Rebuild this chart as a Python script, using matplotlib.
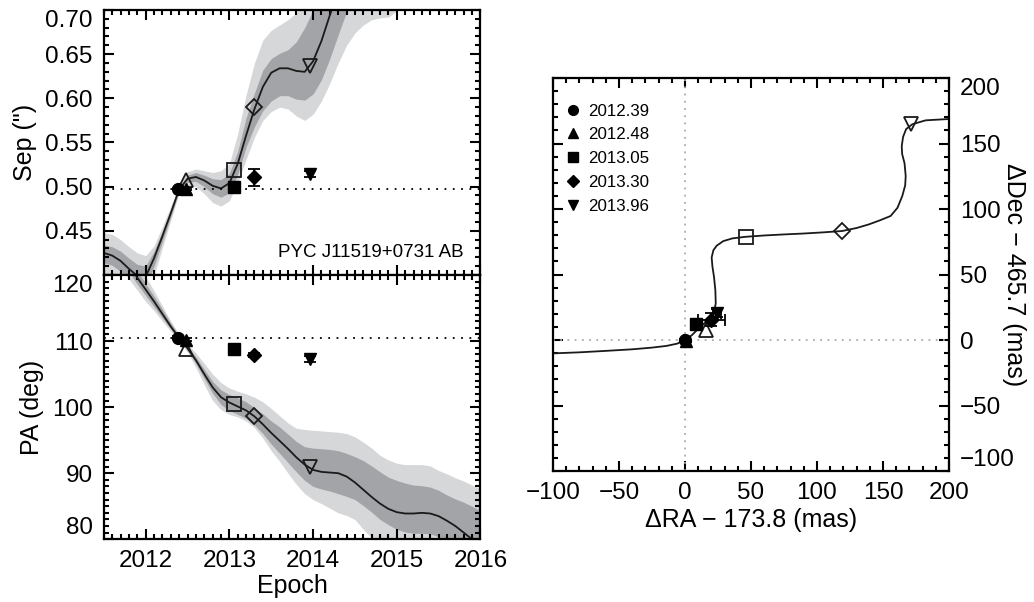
import numpy as np
import matplotlib.pyplot as plt
from matplotlib.ticker import MultipleLocator, FormatStrFormatter
from matplotlib.lines import Line2D

plt.rcParams['font.family'] = ['Liberation Sans', 'DejaVu Sans']
plt.rcParams['axes.linewidth'] = 1.6

# ---- orbit-fit predictions, sampled every 0.1 yr ----
epoch = [2011.5, 2011.6, 2011.7, 2011.8, 2011.9, 2012.0, 2012.1, 2012.2, 2012.3, 2012.4,
         2012.5, 2012.6, 2012.7, 2012.8, 2012.9, 2013.0, 2013.1, 2013.2, 2013.3, 2013.4,
         2013.5, 2013.6, 2013.7, 2013.8, 2013.9, 2014.0, 2014.1, 2014.2, 2014.3, 2014.4,
         2014.5, 2014.6, 2014.7, 2014.8, 2014.9, 2015.0, 2015.1, 2015.2, 2015.3, 2015.4,
         2015.5, 2015.6, 2015.7, 2015.8, 2015.9, 2016.0]

sep_fit = [0.425, 0.422, 0.416, 0.407, 0.399, 0.398, 0.419, 0.444, 0.470, 0.497,
           0.509, 0.511, 0.507, 0.501, 0.498, 0.504, 0.526, 0.558, 0.588, 0.613,
           0.629, 0.634, 0.634, 0.631, 0.630, 0.642, 0.665, 0.694, 0.722, 0.745,
           0.762, 0.772, 0.778, 0.781, 0.783, 0.787, 0.796, 0.810, 0.826, 0.840,
           0.850, 0.856, 0.859, 0.861, 0.864, 0.870]
sep_1s_lo = [0.414, 0.411, 0.404, 0.394, 0.386, 0.387, 0.410, 0.438, 0.466, 0.495,
             0.505, 0.506, 0.500, 0.492, 0.488, 0.493, 0.514, 0.545, 0.568, 0.586,
             0.597, 0.603, 0.603, 0.599, 0.598, 0.605, 0.621, 0.645, 0.672, 0.698,
             0.716, 0.728, 0.735, 0.738, 0.740, 0.743, 0.750, 0.762, 0.776, 0.790,
             0.800, 0.805, 0.808, 0.810, 0.812, 0.816]
sep_1s_hi = [0.434, 0.432, 0.427, 0.419, 0.412, 0.410, 0.427, 0.450, 0.474, 0.499,
             0.513, 0.516, 0.513, 0.509, 0.508, 0.515, 0.540, 0.578, 0.606, 0.632,
             0.645, 0.651, 0.655, 0.664, 0.680, 0.700, 0.720, 0.745, 0.770, 0.790,
             0.805, 0.815, 0.822, 0.826, 0.829, 0.834, 0.844, 0.860, 0.878, 0.892,
             0.902, 0.908, 0.912, 0.915, 0.918, 0.925]
sep_2s_lo = [0.400, 0.396, 0.389, 0.379, 0.371, 0.373, 0.399, 0.431, 0.462, 0.493,
             0.501, 0.500, 0.492, 0.482, 0.478, 0.484, 0.505, 0.531, 0.556, 0.575,
             0.585, 0.590, 0.588, 0.580, 0.575, 0.582, 0.597, 0.617, 0.640, 0.660,
             0.674, 0.683, 0.689, 0.691, 0.692, 0.699, 0.708, 0.720, 0.732, 0.742,
             0.750, 0.754, 0.756, 0.757, 0.759, 0.763]
sep_2s_hi = [0.448, 0.446, 0.440, 0.432, 0.425, 0.422, 0.433, 0.455, 0.478, 0.502,
             0.517, 0.520, 0.518, 0.516, 0.518, 0.526, 0.560, 0.604, 0.640, 0.666,
             0.677, 0.683, 0.689, 0.697, 0.712, 0.730, 0.750, 0.775, 0.800, 0.820,
             0.835, 0.845, 0.853, 0.858, 0.862, 0.868, 0.878, 0.895, 0.915, 0.930,
             0.940, 0.946, 0.950, 0.953, 0.956, 0.962]

pa_fit = [127.0, 125.3, 123.5, 121.6, 119.6, 117.8, 116.0, 114.1, 112.2, 110.5,
          108.9, 107.1, 105.0, 103.0, 101.5, 100.7, 100.1, 99.5, 98.6, 97.4,
          96.1, 94.9, 93.7, 92.4, 91.3, 90.5, 90.2, 90.1, 90.0, 89.5,
          88.6, 87.5, 86.4, 85.4, 84.6, 84.1, 83.9, 83.9, 84.0, 83.9,
          83.5, 82.8, 82.0, 81.0, 80.0, 79.0]
pa_1s_lo = [125.5, 124.0, 122.3, 120.5, 118.6, 116.9, 115.2, 113.5, 111.8, 110.2,
            108.6, 106.6, 104.3, 102.1, 100.4, 99.5, 98.9, 98.3, 97.3, 96.0,
            94.4, 93.0, 91.6, 90.2, 88.9, 88.0, 87.6, 87.3, 86.9, 86.5,
            86.0, 85.1, 84.1, 83.0, 82.2, 81.5, 81.1, 80.9, 80.9, 80.8,
            80.4, 79.7, 78.9, 78.0, 77.0, 76.0]
pa_1s_hi = [128.5, 126.7, 124.8, 122.7, 120.6, 118.7, 116.8, 114.8, 112.7, 110.8,
            109.2, 107.6, 105.7, 103.9, 102.6, 101.9, 101.4, 100.8, 99.9, 99.0,
            97.9, 97.0, 95.9, 94.8, 94.0, 93.8, 93.7, 93.6, 93.4, 93.0,
            92.5, 91.9, 91.1, 90.2, 89.4, 88.9, 88.5, 88.2, 88.1, 87.9,
            87.4, 86.7, 86.1, 85.6, 85.0, 84.3]
pa_2s_lo = [124.0, 122.5, 121.0, 119.4, 117.7, 116.0, 114.6, 113.0, 111.5, 110.0,
            108.3, 106.0, 103.4, 101.0, 99.6, 98.9, 98.5, 97.9, 96.9, 95.3,
            93.4, 91.8, 90.0, 88.3, 86.9, 86.0, 85.4, 84.7, 84.0, 83.6,
            83.0, 81.5, 80.2, 79.0, 78.0, 77.5, 77.0, 76.8, 76.8, 76.6,
            76.0, 75.3, 74.5, 73.6, 72.7, 72.0]
pa_2s_hi = [130.0, 128.2, 126.2, 124.0, 121.8, 119.8, 117.6, 115.3, 113.0, 111.0,
            109.5, 108.2, 106.6, 105.0, 103.7, 102.9, 102.4, 102.0, 101.5, 100.8,
            99.8, 98.7, 97.6, 96.8, 96.6, 96.5, 96.4, 96.3, 96.2, 96.0,
            95.5, 94.7, 93.8, 92.7, 92.0, 91.5, 91.3, 91.3, 91.3, 91.1,
            90.4, 89.9, 89.3, 88.8, 88.2, 87.6]

# ---- measured astrometry ----
obs_epoch = [2012.39, 2012.48, 2013.05, 2013.30, 2013.96]
obs_label = ['2012.39', '2012.48', '2013.05', '2013.30', '2013.96']
obs_marker = ['o', '^', 's', 'D', 'v']
obs_sep = [0.4975, 0.4975, 0.500, 0.5105, 0.5145]
obs_sep_err = [0.001, 0.001, 0.002, 0.0098, 0.003]
obs_pa = [110.5, 110.2, 108.8, 107.9, 107.3]
obs_pa_err = [0.2, 0.2, 0.3, 0.3, 0.4]
obs_dra = [0.0, 1.0, 8.6, 20.0, 24.5]
obs_ddec = [0.0, -1.0, 12.4, 15.5, 20.8]
obs_dra_err = [0.5, 0.5, 1.0, 10.5, 3.0]
obs_ddec_err = [0.5, 0.5, 1.0, 5.0, 3.0]
sep_ref = 0.4975
pa_ref = 110.5

# fit predictions at the later epochs (open symbols)
pred_epoch = [2012.48, 2013.05, 2013.30, 2013.96]
pred_marker = ['^', 's', 'D', 'v']
pred_sep = [0.508, 0.519, 0.590, 0.637]
pred_pa = [108.8, 100.4, 98.7, 90.9]
pred_dra = [16.0, 46.0, 119.2, 171.5]
pred_ddec = [8.0, 78.8, 83.2, 165.0]

# predicted relative track on the sky
track_dra = [-100.0, -80.0, -60.0, -40.0, -25.0, -14.0, -6.0, 0.0, 5.0, 10.0, 15.0, 19.0,
             22.0, 23.3, 23.0, 22.0, 20.8, 20.2, 21.5, 24.0, 29.0, 36.0, 46.0, 60.0,
             75.0, 90.0, 105.0, 119.0, 130.0, 139.4, 148.0, 155.8, 161.0, 164.6, 166.8,
             167.2, 166.3, 164.5, 164.2, 165.2, 167.5, 172.2, 182.3, 196.2, 200.0]
track_ddec = [-10.2, -9.4, -8.3, -7.1, -5.8, -4.5, -2.8, 0.0, 3.5, 8.5, 13.0, 17.0,
              21.0, 28.0, 38.0, 48.0, 56.0, 63.0, 68.5, 72.0, 75.5, 77.6, 78.8, 79.8,
              80.6, 81.3, 82.2, 83.2, 85.5, 88.3, 91.5, 94.7, 101.0, 109.9, 118.0,
              125.2, 135.0, 142.0, 148.0, 155.0, 161.0, 164.7, 167.7, 168.5, 168.7]

light = '#d6d7d9'
dark = '#a3a4a7'
tick_fs = 17.5
label_fs = 18

fig = plt.figure(figsize=(10.34, 6.02), dpi=100)
ax_sep = fig.add_axes([0.1004, 0.5432, 0.3643, 0.4402])
ax_pa = fig.add_axes([0.1004, 0.1042, 0.3643, 0.4390])
ax_r = fig.add_axes([0.5348, 0.2176, 0.3830, 0.6528])


def style_ticks(ax):
    ax.tick_params(which='both', direction='in', top=True, right=True,
                   labelsize=tick_fs, width=1.5)
    ax.tick_params(which='major', length=7, pad=8)
    ax.tick_params(which='minor', length=3.5)


# separation vs epoch
ax_sep.fill_between(epoch, sep_2s_lo, sep_2s_hi, color=light, lw=0)
ax_sep.fill_between(epoch, sep_1s_lo, sep_1s_hi, color=dark, lw=0)
ax_sep.plot(epoch, sep_fit, color='#1a1a1a', lw=1.3)
ax_sep.axhline(sep_ref, color='k', lw=1.3, ls=(0, (1, 3.6)))
for t, s, m in zip(pred_epoch, pred_sep, pred_marker):
    ax_sep.plot(t, s, marker=m, ms=10.5 if m != 'D' else 8.5, mfc='none', mec='#1a1a1a', mew=1.3)
for t, s, e, m in zip(obs_epoch, obs_sep, obs_sep_err, obs_marker):
    ax_sep.errorbar(t, s, yerr=e, fmt=m, ms=8.5 if m != 'D' else 7.5, color='k',
                    elinewidth=1.3, capsize=4, capthick=1.3)
ax_sep.text(0.955, 0.068, 'PYC J11519+0731 AB', transform=ax_sep.transAxes,
            ha='right', va='baseline', fontsize=13.5)
ax_sep.set_xlim(2011.5, 2016.0)
ax_sep.set_ylim(0.40, 0.70)
ax_sep.set_yticks([0.45, 0.50, 0.55, 0.60, 0.65, 0.70])
ax_sep.yaxis.set_major_formatter(FormatStrFormatter('%.2f'))
ax_sep.yaxis.set_minor_locator(MultipleLocator(0.01))
ax_sep.set_xticks([2012, 2013, 2014, 2015, 2016])
ax_sep.xaxis.set_minor_locator(MultipleLocator(0.1))
style_ticks(ax_sep)
ax_sep.tick_params(labelbottom=False)
ax_sep.set_ylabel('Sep (")', fontsize=label_fs, labelpad=6)

# position angle vs epoch
ax_pa.fill_between(epoch, pa_2s_lo, pa_2s_hi, color=light, lw=0)
ax_pa.fill_between(epoch, pa_1s_lo, pa_1s_hi, color=dark, lw=0)
ax_pa.plot(epoch, pa_fit, color='#1a1a1a', lw=1.3)
ax_pa.axhline(pa_ref, color='k', lw=1.3, ls=(0, (1, 3.6)))
for t, p, m in zip(pred_epoch, pred_pa, pred_marker):
    ax_pa.plot(t, p, marker=m, ms=10.5 if m != 'D' else 8.5, mfc='none', mec='#1a1a1a', mew=1.3)
for t, p, e, m in zip(obs_epoch, obs_pa, obs_pa_err, obs_marker):
    ax_pa.errorbar(t, p, yerr=e, fmt=m, ms=8.5 if m != 'D' else 7.5, color='k',
                   elinewidth=1.3, capsize=4, capthick=1.3)
ax_pa.set_xlim(2011.5, 2016.0)
ax_pa.set_ylim(80, 120)
ax_pa.set_yticks([80, 90, 100, 110, 120])
ax_pa.yaxis.set_minor_locator(MultipleLocator(1))
ax_pa.set_xticks([2012, 2013, 2014, 2015, 2016])
ax_pa.xaxis.set_minor_locator(MultipleLocator(0.1))
style_ticks(ax_pa)
ax_pa.set_ylabel('PA (deg)', fontsize=label_fs, labelpad=6)
ax_pa.set_xlabel('Epoch', fontsize=label_fs, labelpad=1)

# relative position on the sky
ax_r.axvline(0, color='#aaaaaa', lw=1.3, ls=(0, (1, 3)))
ax_r.axhline(0, color='#aaaaaa', lw=1.3, ls=(0, (1, 3)))
ax_r.plot(track_dra, track_ddec, color='#1a1a1a', lw=1.3)
for x, y, m in zip(pred_dra, pred_ddec, pred_marker):
    ax_r.plot(x, y, marker=m, ms=9.5 if m != 'D' else 8, mfc='none', mec='#1a1a1a', mew=1.3)
for x, y, ex, ey, m in zip(obs_dra, obs_ddec, obs_dra_err, obs_ddec_err, obs_marker):
    ax_r.errorbar(x, y, xerr=ex, yerr=ey, fmt=m, ms=8.5 if m != 'D' else 7.5, color='k',
                  elinewidth=1.3, capsize=4, capthick=1.3)
ax_r.set_xlim(-100, 200)
ax_r.set_ylim(-100, 200)
ax_r.set_xticks([-100, -50, 0, 50, 100, 150, 200])
ax_r.set_yticks([-100, -50, 0, 50, 100, 150, 200])
ax_r.xaxis.set_minor_locator(MultipleLocator(10))
ax_r.yaxis.set_minor_locator(MultipleLocator(10))
style_ticks(ax_r)
ax_r.tick_params(labelleft=False, labelright=True)
ax_r.set_xlabel('ΔRA − 173.8 (mas)', fontsize=label_fs, labelpad=3)
ax_r.yaxis.set_label_position('right')
ax_r.set_ylabel('ΔDec − 465.7 (mas)', fontsize=label_fs, rotation=270,
                va='center', ha='center')
ax_r.yaxis.set_label_coords(1.165, 0.5)

handles = [Line2D([], [], marker=m, color='k', ls='none', ms=7 if m != 'D' else 6)
           for m in obs_marker]
ax_r.legend(handles, obs_label, loc='upper left', bbox_to_anchor=(0.03, 0.935),
            frameon=False, fontsize=12.2, handlelength=1.0, handletextpad=0.4,
            borderaxespad=0, borderpad=0, labelspacing=0.52)

# keep the end labels of the vertical axes inside the frame
ax_sep.yaxis.get_major_ticks()[-1].label1.set_verticalalignment('top')
pa_ticks = ax_pa.yaxis.get_major_ticks()
pa_ticks[0].label1.set_verticalalignment('bottom')
pa_ticks[-1].label1.set_verticalalignment('top')
r_ticks = ax_r.yaxis.get_major_ticks()
r_ticks[0].label2.set_verticalalignment('bottom')
r_ticks[-1].label2.set_verticalalignment('top')

plt.savefig('out.png', dpi=100)
